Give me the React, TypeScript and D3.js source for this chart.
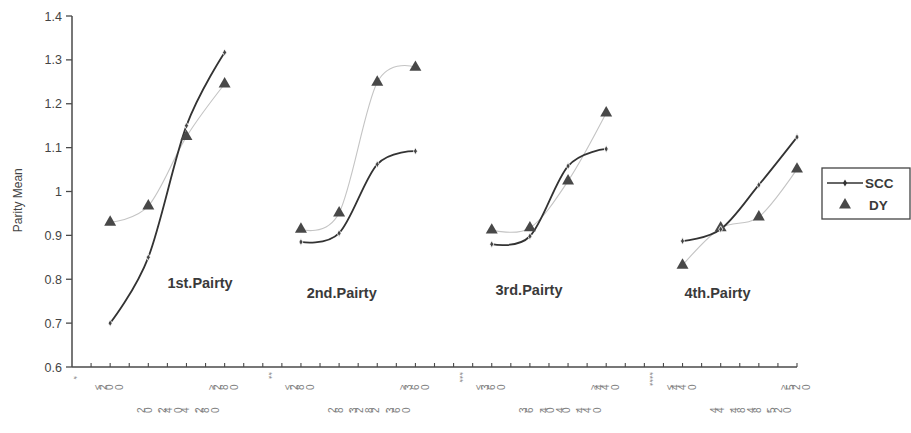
import React, { useRef, useEffect } from "react"
import * as d3 from "d3"

// category slots along the x axis (39 positions, points sit on the ticks)
const xLabels: string[] = [
  "*", "", "≤20 0", "", "", "", "20 -24 04 -28 0", "", "≥28 0", "",
  "**", "", "≤28 0", "", "", "", "28 -32 82 -36 0", "", "≥36 0", "",
  "***", "", "≤36 0", "", "", "", "36 -40 40 -44 0", "", "≥44 0", "",
  "****", "", "≤44 0", "", "", "", "44 -48 48 -52 0", "", "≥52 0",
]

const groupSlots: number[][] = [
  [2, 4, 6, 8],
  [12, 14, 16, 18],
  [22, 24, 26, 28],
  [32, 34, 36, 38],
]

const sccValues: number[][] = [
  [0.7, 0.85, 1.15, 1.317],
  [0.885, 0.905, 1.062, 1.092],
  [0.88, 0.898, 1.058, 1.097],
  [0.887, 0.914, 1.015, 1.124],
]

const dyValues: number[][] = [
  [0.93, 0.967, 1.125, 1.245],
  [0.914, 0.951, 1.249, 1.283],
  [0.912, 0.917, 1.024, 1.179],
  [0.832, 0.917, 0.942, 1.051],
]

const groupNames = ["1st.Pairty", "2nd.Pairty", "3rd.Pairty", "4th.Pairty"]
const groupNameSlot = [5.0, 12.3, 22.2, 32.1]
const groupNameValue = [0.78, 0.758, 0.763, 0.758]

const yTicks = [0.6, 0.7, 0.8, 0.9, 1, 1.1, 1.2, 1.3, 1.4]

const W = 911
const H = 433
const FONT = "'Liberation Sans', Arial, sans-serif"

const App: React.FC = () => {
  const svgRef = useRef<SVGSVGElement>(null)

  useEffect(() => {
    if (!svgRef.current) return
    const svg = d3.select(svgRef.current)
    svg.selectAll("*").remove()

    const x = d3
      .scalePoint<number>()
      .domain(d3.range(xLabels.length))
      .range([72, 797])
    const y = d3.scaleLinear().domain([0.6, 1.4]).range([367, 16])

    const axisColor = "#4a4a4a"

    // y axis
    svg.append("line")
      .attr("x1", 72).attr("x2", 72)
      .attr("y1", y(1.4)).attr("y2", y(0.6))
      .attr("stroke", axisColor).attr("stroke-width", 1.5)

    svg.selectAll(".ytick")
      .data(yTicks)
      .enter()
      .append("line")
      .attr("x1", 66).attr("x2", 72)
      .attr("y1", (d) => y(d)).attr("y2", (d) => y(d))
      .attr("stroke", axisColor).attr("stroke-width", 1.3)

    svg.selectAll(".ylabel")
      .data(yTicks)
      .enter()
      .append("text")
      .attr("x", 62)
      .attr("y", (d) => y(d) + 4.5)
      .attr("text-anchor", "end")
      .attr("font-family", FONT)
      .attr("font-size", "12.5px")
      .attr("fill", "#444")
      .text((d) => (d === 1 ? "1" : d.toFixed(1)))

    svg.append("text")
      .attr("transform", `translate(22,${y(0.98)}) rotate(-90)`)
      .attr("text-anchor", "middle")
      .attr("font-family", FONT)
      .attr("font-size", "12px")
      .attr("fill", "#444")
      .text("Parity Mean")

    // x axis
    svg.append("line")
      .attr("x1", 72).attr("x2", 797)
      .attr("y1", y(0.6)).attr("y2", y(0.6))
      .attr("stroke", axisColor).attr("stroke-width", 1.5)

    svg.selectAll(".xtick")
      .data(d3.range(1, xLabels.length))
      .enter()
      .append("line")
      .attr("x1", (d) => x(d)!).attr("x2", (d) => x(d)!)
      .attr("y1", y(0.6) - 4).attr("y2", y(0.6))
      .attr("stroke", axisColor).attr("stroke-width", 1.1)

    // x labels: glyphs rotated, as in the scanned original
    const labelled = xLabels
      .map((t, i) => ({ t, i }))
      .filter((d) => d.t !== "")

    labelled
      .filter((d) => d.t.startsWith("*"))
      .forEach((d) => {
        svg.append("text")
          .attr("transform", `translate(${x(d.i)! + (d.i === 0 ? -1 : 3)},${d.i === 0 ? 376 : 372}) rotate(90)`)
          .attr("font-family", FONT)
          .attr("font-size", "9px")
          .attr("fill", "#888")
          .text(d.t)
      })

    labelled
      .filter((d) => !d.t.startsWith("*"))
      .forEach((d) => {
        const lower = d.t.includes("-")
        const t = svg.append("text")
          .attr("x", x(d.i)! + (lower ? -1 : 5))
          .attr("y", lower ? 413 : 390)
          .attr("text-anchor", "middle")
          .attr("font-family", FONT)
          .attr("font-size", "10px")
          .attr("fill", "#808080")
          .attr("letter-spacing", "0.8px")
          .text(d.t)
        t.attr("rotate", Array.from(d.t).map(() => -90).join(" "))
      })

    const line = d3
      .line<[number, number]>()
      .x((d) => x(d[0])!)
      .y((d) => y(d[1]))
      .curve(d3.curveCardinal.tension(0))

    const tri = d3.symbol().type(d3.symbolTriangle).size(62)
    const dia = d3.symbol().type(d3.symbolDiamond).size(14)

    groupSlots.forEach((slots, g) => {
      const dyPts: [number, number][] = slots.map((s, k) => [s, dyValues[g][k]])
      const sccPts: [number, number][] = slots.map((s, k) => [s, sccValues[g][k]])

      svg.append("path")
        .attr("d", line(dyPts)!)
        .attr("fill", "none")
        .attr("stroke", "#c4c4c4")
        .attr("stroke-width", 1.1)

      svg.append("path")
        .attr("d", line(sccPts)!)
        .attr("fill", "none")
        .attr("stroke", "#333")
        .attr("stroke-width", 1.8)

      svg.selectAll(null)
        .data(dyPts)
        .enter()
        .append("path")
        .attr("d", tri()!)
        .attr("transform", (d) => `translate(${x(d[0])},${y(d[1])})`)
        .attr("fill", "#484848")

      svg.selectAll(null)
        .data(sccPts)
        .enter()
        .append("path")
        .attr("d", dia()!)
        .attr("transform", (d) => `translate(${x(d[0])},${y(d[1])})`)
        .attr("fill", "#444")
        .attr("stroke", "#fff")
        .attr("stroke-width", 0.8)

      svg.append("text")
        .attr("x", x.range()[0] + groupNameSlot[g] * x.step())
        .attr("y", y(groupNameValue[g]))
        .attr("font-family", FONT)
        .attr("font-size", "14.5px")
        .attr("font-weight", "bold")
        .attr("fill", "#3a3a3a")
        .text(groupNames[g])
    })

    // legend
    const lg = svg.append("g").attr("transform", "translate(822,168)")
    lg.append("rect")
      .attr("width", 88).attr("height", 51)
      .attr("fill", "#fff")
      .attr("stroke", "#444").attr("stroke-width", 1.3)
    lg.append("line")
      .attr("x1", 5).attr("x2", 41).attr("y1", 15).attr("y2", 15)
      .attr("stroke", "#333").attr("stroke-width", 1.5)
    lg.append("path").attr("d", dia()!)
      .attr("transform", "translate(23,15)").attr("fill", "#333")
    lg.append("text")
      .attr("x", 43).attr("y", 20)
      .attr("font-family", FONT).attr("font-size", "13.5px")
      .attr("font-weight", "bold").attr("fill", "#3a3a3a")
      .text("SCC")
    lg.append("path").attr("d", tri()!)
      .attr("transform", "translate(23,37)").attr("fill", "#484848")
    lg.append("text")
      .attr("x", 47).attr("y", 42)
      .attr("font-family", FONT).attr("font-size", "13.5px")
      .attr("font-weight", "bold").attr("fill", "#3a3a3a")
      .text("DY")
  }, [])

  return (
    <div style={{ position: "fixed", left: 0, top: 0 }}>
      <svg ref={svgRef} width={W} height={H} style={{ display: "block", background: "#fff" }} />
    </div>
  )
}

export default App
